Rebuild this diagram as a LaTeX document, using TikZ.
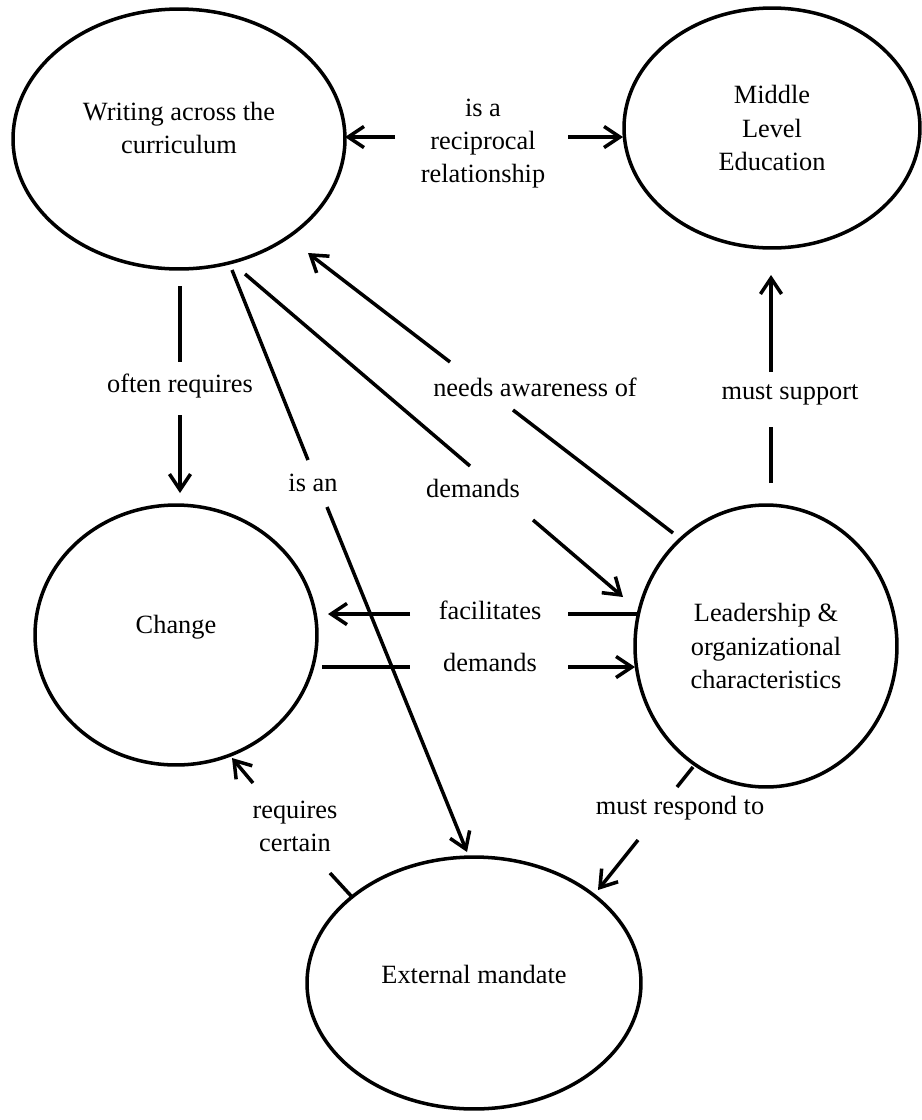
\documentclass[tikz,border=0pt]{standalone}
\usepackage{fontspec}
\setmainfont{Liberation Serif}
\usetikzlibrary{shapes.geometric,arrows.meta}

\begin{document}
\begin{tikzpicture}[x=0.02cm, y=-0.02cm,
        font=\fontsize{15}{18.8}\selectfont,
        concept/.style={ellipse, draw, line width=2pt, inner sep=0pt, align=center},
        linkword/.style={align=center, inner sep=1pt},
        link/.style={line width=2pt},
        linkto/.style={line width=2pt, -{Straight Barb[length=9pt,width=12pt]}},
    ]
    \useasboundingbox (0,0) rectangle (921,1120);

    %Nodes: concepts
    \node[concept, minimum width=6.64cm, minimum height=5.2cm, text depth=12.5pt]  (writing)    at (179,139) {Writing across the\\curriculum};
    \node[concept, minimum width=5.92cm, minimum height=4.8cm]  (middle)     at (772,128) {Middle\\Level\\Education};
    \node[concept, minimum width=5.64cm, minimum height=5.2cm, text depth=12pt]   (change)     at (176,635) {Change};
    \node[concept, minimum width=5.24cm, minimum height=5.64cm] (leadership) at (766,646) {Leadership \&\\organizational\\characteristics};
    \node[concept, minimum width=6.68cm, minimum height=5.04cm, text depth=10pt] (mandate)    at (474,983) {External mandate};

    %Nodes: linking words
    \node[linkword] (recip)   at (483,144) {is a\\reciprocal\\relationship};
    \node[linkword] (often)   at (180,386) {often requires};
    \node[linkword] (isan)    at (313,483) {is an};
    \node[linkword] (needs)   at (535,387) {needs awareness of};
    \node[linkword] (demA)    at (473,488) {demands};
    \node[linkword] (support) at (790,395) {must support};
    \node[linkword] (facil)   at (490,610) {facilitates};
    \node[linkword] (demB)    at (490,662) {demands};
    \node[linkword] (reqcert) at (295,826) {requires\\certain};
    \node[linkword] (respond) at (680,808) {must respond to};

    %Coordinates: ends of the link segments
    \coordinate (recip_l1) at (395,137);  \coordinate (recip_l2) at (345,137);
    \coordinate (recip_r1) at (568,137);  \coordinate (recip_r2) at (623,137);
    \coordinate (often_a) at (180,286);   \coordinate (often_b) at (180,362);
    \coordinate (often_c) at (180,415);   \coordinate (often_d) at (180,493);
    \coordinate (isan_a) at (232,270);    \coordinate (isan_b) at (308,460);
    \coordinate (isan_c) at (327,507);    \coordinate (isan_d) at (467,852);
    \coordinate (demA_a) at (245,274);    \coordinate (demA_b) at (470,466);
    \coordinate (demA_c) at (533,520);    \coordinate (demA_d) at (623,597);
    \coordinate (needs_a) at (673,533);   \coordinate (needs_b) at (513,410);
    \coordinate (needs_c) at (450,362);   \coordinate (needs_d) at (308,253);
    \coordinate (support_a) at (771,483); \coordinate (support_b) at (771,427);
    \coordinate (support_c) at (771,372); \coordinate (support_d) at (771,275);
    \coordinate (facil_a) at (637,614);   \coordinate (facil_b) at (568,614);
    \coordinate (facil_c) at (410,614);   \coordinate (facil_d) at (328,614);
    \coordinate (demB_a) at (322,667);    \coordinate (demB_b) at (410,667);
    \coordinate (demB_c) at (568,667);    \coordinate (demB_d) at (635,667);
    \coordinate (req_a) at (353,898);     \coordinate (req_b) at (330,873);
    \coordinate (req_c) at (253,783);     \coordinate (req_d) at (232,758);
    \coordinate (resp_a) at (693,767);    \coordinate (resp_b) at (677,787);
    \coordinate (resp_c) at (638,840);    \coordinate (resp_d) at (598,890);

    %Lines: links broken around their words
    \draw[linkto] (recip_l1) -- (recip_l2);
    \draw[linkto] (recip_r1) -- (recip_r2);

    \draw[link]   (often_a) -- (often_b);
    \draw[linkto] (often_c) -- (often_d);

    \draw[link]   (isan_a) -- (isan_b);
    \draw[linkto] (isan_c) -- (isan_d);

    \draw[link]   (demA_a) -- (demA_b);
    \draw[linkto] (demA_c) -- (demA_d);

    \draw[link]   (needs_a) -- (needs_b);
    \draw[linkto] (needs_c) -- (needs_d);

    \draw[link]   (support_a) -- (support_b);
    \draw[linkto] (support_c) -- (support_d);

    \draw[link]   (facil_a) -- (facil_b);
    \draw[linkto] (facil_c) -- (facil_d);

    \draw[link]   (demB_a) -- (demB_b);
    \draw[linkto] (demB_c) -- (demB_d);

    \draw[link]   (req_a) -- (req_b);
    \draw[linkto] (req_c) -- (req_d);

    \draw[link]   (resp_a) -- (resp_b);
    \draw[linkto] (resp_c) -- (resp_d);
\end{tikzpicture}
\end{document}
